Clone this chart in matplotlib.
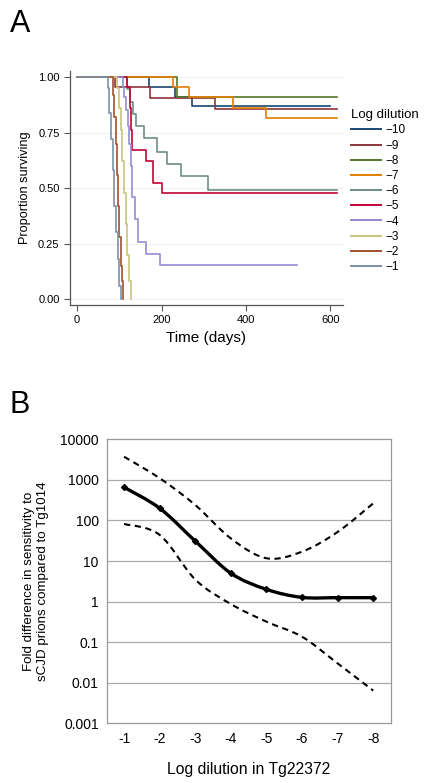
import numpy as np
import matplotlib
matplotlib.use('Agg')
from matplotlib import pyplot as plt
from matplotlib.path import Path
from matplotlib.patches import PathPatch
from matplotlib.lines import Line2D
from matplotlib.ticker import FixedLocator, FixedFormatter

plt.rcParams['font.family'] = ['Liberation Sans', 'DejaVu Sans']

# ---- panel A: Kaplan-Meier steps (day of each drop, survival after drop, last day)
dilutions = ['\u221210', '\u22129', '\u22128', '\u22127', '\u22126',
             '\u22125', '\u22124', '\u22123', '\u22122', '\u22121']
colors = ['#1a476f', '#90353b', '#55752f', '#e37e00', '#6e8e84',
          '#c10534', '#938dd2', '#cac27e', '#a0522d', '#7b92a8']
t_m10 = [171, 232, 273]
s_m10 = [0.955, 0.91, 0.868]
t_m9 = [90, 172, 327]
s_m9 = [0.955, 0.908, 0.858]
t_m8 = [236]
s_m8 = [0.913]
t_m7 = [228, 265, 370, 447]
s_m7 = [0.955, 0.913, 0.86, 0.818]
t_m6 = [118, 125, 133, 139, 158, 190, 213, 245, 311]
s_m6 = [0.945, 0.89, 0.835, 0.78, 0.725, 0.665, 0.61, 0.555, 0.493]
t_m5 = [118, 125, 128, 131, 164, 179, 202]
s_m5 = [0.955, 0.86, 0.76, 0.67, 0.62, 0.525, 0.48]
t_m4 = [108, 112, 116, 120, 124, 128, 131, 136, 144, 164, 196]
s_m4 = [0.955, 0.91, 0.85, 0.78, 0.70, 0.60, 0.46, 0.36, 0.257, 0.204, 0.155]
t_m3 = [95, 99, 103, 107, 111, 115, 119, 123, 127]
s_m3 = [0.95, 0.86, 0.76, 0.62, 0.48, 0.34, 0.20, 0.08, 0.0]
t_m2 = [85, 88, 91, 94, 97, 100, 103, 106, 109]
s_m2 = [0.92, 0.82, 0.70, 0.56, 0.42, 0.28, 0.15, 0.08, 0.0]
t_m1 = [72, 76, 80, 84, 88, 92, 96, 100, 103]
s_m1 = [0.95, 0.84, 0.72, 0.58, 0.42, 0.30, 0.18, 0.06, 0.0]
end_days = [600, 615, 615, 615, 615, 615, 520, 127, 109, 103]
times = [t_m10, t_m9, t_m8, t_m7, t_m6, t_m5, t_m4, t_m3, t_m2, t_m1]
survs = [s_m10, s_m9, s_m8, s_m7, s_m6, s_m5, s_m4, s_m3, s_m2, s_m1]

# ---- panel B
log_dil = [-1, -2, -3, -4, -5, -6, -7, -8]
fold = [656, 200, 31, 5.0, 2.0, 1.27, 1.25, 1.25]
upper = [3720, 1100, 240, 36, 11.7, 17, 52, 263]
lower = [82, 44, 3.5, 0.87, 0.32, 0.136, 0.030, 0.0064]
b_ticks = [0.001, 0.01, 0.1, 1, 10, 100, 1000, 10000]
b_ticklabels = ['0.001', '0.01', '0.1', '1', '10', '100', '1000', '10000']

fig = plt.figure(figsize=(4.29, 7.83), dpi=100)
W, H = 429.0, 783.0

# ================= A
axA = fig.add_axes([70 / W, 1 - 305 / H, (343 - 70) / W, (305 - 71) / H])
for y in [0, 0.25, 0.5, 0.75, 1.0]:
    axA.axhline(y, color='#f0f0f0', lw=0.8, zorder=0)
for i in range(len(dilutions)):
    xs = [0] + times[i] + [end_days[i]]
    ys = [1.0] + survs[i] + [survs[i][-1]]
    axA.step(xs, ys, where='post', color=colors[i], lw=1.2)
axA.set_xlim(-17, 630)
axA.set_ylim(-0.027, 1.028)
axA.set_xticks([0, 200, 400, 600])
axA.set_yticks([0, 0.25, 0.5, 0.75, 1.0])
axA.set_yticklabels(['0.00', '0.25', '0.50', '0.75', '1.00'])
axA.tick_params(labelsize=8, length=4, color='#555555', width=0.8)
for s in ['top', 'right']:
    axA.spines[s].set_visible(False)
for s in ['left', 'bottom']:
    axA.spines[s].set_color('#555555')
    axA.spines[s].set_linewidth(0.9)
axA.set_ylabel('Proportion surviving', fontsize=9.2, labelpad=5)
axA.set_xlabel('Time (days)', fontsize=11, labelpad=4)

handles = [Line2D([], [], color=c, lw=1.4) for c in colors]
leg = fig.legend(handles, dilutions, loc='upper left', bbox_to_anchor=(343 / W, 1 - 101 / H),
                 frameon=False, fontsize=8.5, title='Log dilution', title_fontsize=9.5,
                 handlelength=2.5, handletextpad=0.4, labelspacing=0.27,
                 alignment='left', borderpad=0.2)

fig.text(10 / W, 1 - 24 / H, 'A', fontsize=22, va='center', ha='left')

# ================= B
axB = fig.add_axes([107 / W, 1 - 723.3 / H, (391 - 107) / W, (723.3 - 439.3) / H])
axB.set_yscale('log')
axB.set_ylim(0.001, 10000)
axB.set_xlim(-0.52, -8.5)
for y in b_ticks[1:-1]:
    axB.axhline(y, color='#aaaaaa', lw=0.9, zorder=0)


def smooth_path(xv, yv):
    # Excel-style smoothed line: cubic Bezier through the points (in log space)
    px = np.array(xv, float)
    py = np.log10(np.array(yv, float))
    verts = [(px[0], py[0])]
    codes = [Path.MOVETO]
    n = len(px)
    for k in range(n - 1):
        p0 = k - 1 if k > 0 else k
        p3 = k + 2 if k + 2 < n else k + 1
        c1 = (px[k] + (px[k + 1] - px[p0]) / 6, py[k] + (py[k + 1] - py[p0]) / 6)
        c2 = (px[k + 1] - (px[p3] - px[k]) / 6, py[k + 1] - (py[p3] - py[k]) / 6)
        verts += [c1, c2, (px[k + 1], py[k + 1])]
        codes += [Path.CURVE4] * 3
    verts = [(a, 10 ** b) for a, b in verts]
    return Path(verts, codes)


axB.add_patch(PathPatch(smooth_path(log_dil, upper), fill=False, lw=1.5,
                        ls=(0, (3, 2.2)), color='black'))
axB.add_patch(PathPatch(smooth_path(log_dil, lower), fill=False, lw=1.5,
                        ls=(0, (3, 2.2)), color='black'))
axB.add_patch(PathPatch(smooth_path(log_dil, fold), fill=False, lw=2.4, color='black'))
axB.plot(log_dil, fold, ls='none', marker='D', ms=3, color='black')

axB.yaxis.set_major_locator(FixedLocator(b_ticks))
axB.yaxis.set_major_formatter(FixedFormatter(b_ticklabels))
axB.yaxis.set_minor_locator(FixedLocator([]))
axB.set_xticks(log_dil)
axB.set_xticklabels([str(v) for v in log_dil])
axB.tick_params(length=0, labelsize=10, pad=6)
for s in axB.spines.values():
    s.set_color('#999999')
    s.set_linewidth(0.9)
axB.set_ylabel('Fold difference in sensitivity to\nsCJD prions compared to Tg1014',
               fontsize=9.6, labelpad=8)
axB.set_xlabel('Log dilution in Tg22372', fontsize=11.3, labelpad=12)

fig.text(10 / W, 1 - 405 / H, 'B', fontsize=22, va='center', ha='left')

plt.savefig('out.png', dpi=100)
